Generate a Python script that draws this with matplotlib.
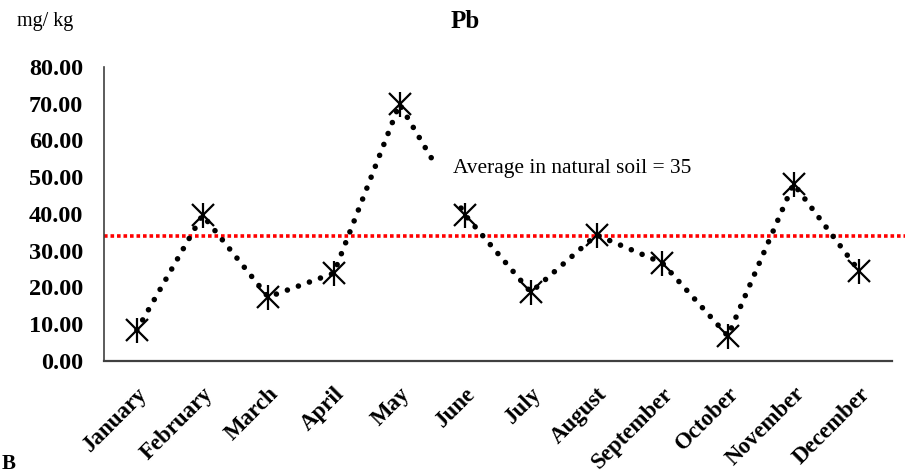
import matplotlib
matplotlib.use('Agg')
import matplotlib.pyplot as plt
from matplotlib.patches import Rectangle

# ============ DATA ============
months = ['January', 'February', 'March', 'April', 'May', 'June',
          'July', 'August', 'September', 'October', 'November', 'December']
pb = [8.4, 39.7, 17.4, 23.9, 69.9, 39.7, 18.7, 34.3, 26.7, 6.8, 48.2, 24.5]
avg_natural = 34.0
yticks = [0, 10, 20, 30, 40, 50, 60, 70, 80]

plt.rcParams['font.family'] = ['Liberation Serif', 'DejaVu Serif']

fig = plt.figure(figsize=(9.18, 4.75), dpi=100)
ax = fig.add_axes([0.1133, 0.24, 0.8584, 0.619])

x = list(range(len(months)))
ax.plot(x, pb, color='black', linestyle=(0, (0.01, 2.1)), linewidth=4.0,
        dash_capstyle='round', solid_capstyle='round', zorder=3)
ax.plot(x, pb, linestyle='none', marker='x', markersize=16, mew=1.6,
        color='black', zorder=4)
ax.plot(x, pb, linestyle='none', marker='|', markersize=18, mew=1.6,
        color='black', zorder=4)

# average line (goes a bit past the axis end)
ax.plot([-0.5, 11.7], [avg_natural, avg_natural], color='#ff0000',
        linestyle=(0, (1.0, 0.8)), linewidth=2.6, clip_on=False, zorder=2)

# label box hides part of the dotted line
ax.add_patch(Rectangle((4.53, 43.5), 4.0, 11.0, facecolor='white',
                       edgecolor='none', zorder=5))
ax.text(4.82, 52.3, 'Average in natural soil = 35', fontsize=15.4,
        ha='left', va='center', zorder=6)

ax.set_xlim(-0.5, 11.5)
ax.set_ylim(0, 80)
ax.set_yticks(yticks)
ax.set_yticklabels([f'{v:.2f}' for v in yticks], fontsize=17.5, fontweight='bold')
ax.set_xticks(x)
ax.set_xticklabels(months, rotation=45, ha='right', rotation_mode='anchor',
                   fontsize=16.5, fontweight='bold')
ax.tick_params(axis='y', length=0, pad=15)
ax.tick_params(axis='x', length=0, pad=16)
for s in ['top', 'right']:
    ax.spines[s].set_visible(False)
ax.spines['left'].set_color('#404040')
ax.spines['bottom'].set_color('#404040')
ax.spines['left'].set_linewidth(1.2)
ax.spines['bottom'].set_linewidth(1.6)

fig.text(0.507, 0.955, 'Pb', fontsize=18, fontweight='bold', ha='center', va='center')
fig.text(0.019, 0.955, 'mg/ kg', fontsize=14.5, ha='left', va='center')
fig.text(0.002, 0.003, 'B', fontsize=15, fontweight='bold', ha='left', va='bottom')

fig.savefig('out.png', dpi=100)
